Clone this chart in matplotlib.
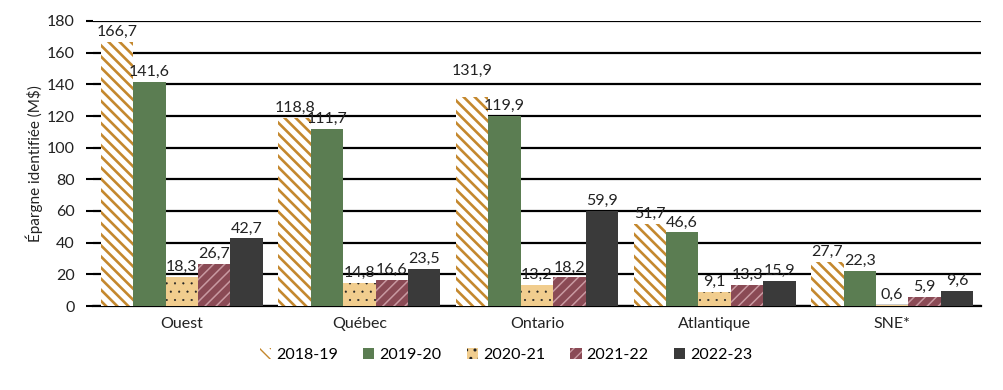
import matplotlib
matplotlib.use("Agg")
import matplotlib.pyplot as plt
import numpy as np

categories = ["Ouest", "Québec", "Ontario", "Atlantique", "SNE*"]
series = ["2018-19", "2019-20", "2020-21", "2021-22", "2022-23"]
v2018 = [166.7, 118.8, 131.9, 51.7, 27.7]
v2019 = [141.6, 111.7, 119.9, 46.6, 22.3]
v2020 = [18.3, 14.8, 13.2, 9.1, 0.6]
v2021 = [26.7, 16.6, 18.2, 13.3, 5.9]
v2022 = [42.7, 23.5, 59.9, 15.9, 9.6]
values = [v2018, v2019, v2020, v2021, v2022]
yticks = [0, 20, 40, 60, 80, 100, 120, 140, 160, 180]

styles = [
    dict(facecolor="white", edgecolor="#C4882E", hatch="\\\\\\", hlw=1.9),
    dict(facecolor="#5B7D52", edgecolor="#5B7D52", hatch=None, hlw=1.0),
    dict(facecolor="#F1CD8E", edgecolor="#222222", hatch="..", hlw=0.3),
    dict(facecolor="#8A4A55", edgecolor="#C99AA2", hatch="///", hlw=1.1),
    dict(facecolor="#3A3A3A", edgecolor="#3A3A3A", hatch=None, hlw=1.0),
]

fig = plt.figure(figsize=(10.04, 3.9), dpi=100)
ax = fig.add_axes([93/1004, 1-306/390, (981-93)/1004, (306-21)/390])

font = "Lato"
tc = "#222222"
x = np.arange(len(categories))
w = 0.1825
handles = []
for i, (vals, st) in enumerate(zip(values, styles)):
    pos = x + (i - 2) * w
    plt.rcParams['hatch.linewidth'] = st["hlw"]
    bars = ax.bar(pos, vals, width=w, facecolor=st["facecolor"], edgecolor=st["edgecolor"],
                  hatch=st["hatch"], linewidth=0, label=series[i], zorder=3)
    for b in bars:
        if hasattr(b, "set_hatch_linewidth"):
            b.set_hatch_linewidth(st["hlw"])
    handles.append(bars)
    for p, v in zip(pos, vals):
        off = 14 if (i == 0 and v == 131.9) else 2
        ax.annotate(f"{v:.1f}".replace(".", ","), (p, v), xytext=(0, off), textcoords="offset points",
                    ha="center", va="bottom", fontsize=11.5, family=font, color=tc, zorder=4)

ax.set_xlim(-0.5, 4.5)
ax.set_ylim(0, 180)
ax.set_yticks(yticks)
ax.set_yticklabels([str(t) for t in yticks], fontsize=11.5, family=font, color=tc)
ax.set_xticks(x)
ax.set_xticklabels(categories, fontsize=11.5, family=font, color=tc)
ax.tick_params(axis="x", length=0, pad=8)
ax.tick_params(axis="y", length=5, width=1.5, color="black", pad=8)
ax.grid(axis="y", color="black", lw=1.6, zorder=1)
for s in ["top", "right", "left"]:
    ax.spines[s].set_visible(False)
ax.spines["bottom"].set_color("black")
ax.spines["bottom"].set_linewidth(1.6)
ax.set_ylabel("Épargne identifiée (M$)", fontsize=11, family=font, color=tc, labelpad=3)

leg = fig.legend(handles=handles, labels=series, loc="center",
                 ncol=5, frameon=False, prop={"family": font, "size": 11.5},
                 handlelength=0.7, handleheight=0.7, columnspacing=1.6, handletextpad=0.3)
leg.set_bbox_to_anchor((0.504, 1 - 355/390), transform=fig.transFigure)

fig.savefig("out.png", dpi=100)
